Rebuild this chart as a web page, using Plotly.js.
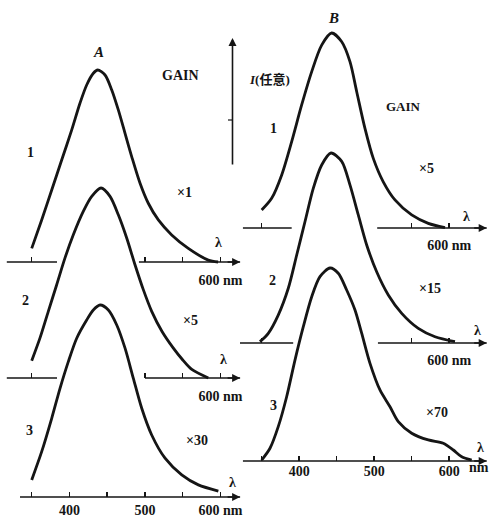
<!DOCTYPE html>
<html><head><meta charset="utf-8">
<script src="https://cdn.plot.ly/plotly-3.0.1.min.js"></script>
<style>html,body{margin:0;padding:0;background:#fff}#chart{width:496px;height:523px}</style>
</head><body><div id="chart"></div>
<script>
// ---- data (wavelength nm, relative intensity after gain) ----
const a1_nm = [350,363.2,376.5,389.7,403,414,422.8,431.6,437.4,447.1,456,464.7,473.6,482.5,493.5,504.4,517.7,535.4,557.4,583.9,596.8];
const a1_I  = [7.1,21.9,37.5,53.1,68.8,82.8,92.2,98.3,100,97.4,89.6,79.2,67,54.8,41,30.6,21.9,14.1,7.1,1,0];
const a2_nm = [350,361,372,383.1,394.1,405.1,418.3,429.5,441.8,453.7,464.7,475.8,486.8,497.8,508.9,522.6,537.1,549,562,583.9];
const a2_I  = [9.1,21.1,35.1,49.1,63.2,75.4,87.7,95.6,100,95.6,85.9,73.7,59.6,46.5,35.1,24.5,16,10,4.5,0];
const a3_nm = [350,363.2,376.5,387.5,398.5,409.6,422.8,431.6,440.5,451.5,462.6,473.6,484.6,495.7,508.9,526.6,548.7,570.7,597.2];
const a3_I  = [8.9,23.6,41,56.6,70.5,82.7,92.2,97.4,100,97.4,89.6,77.5,61.8,46.2,32.3,20.2,11.5,6.3,3.1];
const b1_nm = [350,363.3,376.7,390,403.3,416.7,430,443.3,456.7,467.7,476.7,487.7,498.8,512.1,527.7,550,572.1,594.4];
const b1_I  = [9.2,15.2,27.2,44.3,63.1,80.2,93.8,100,95.5,85.3,69.9,51.1,35.7,23.7,14.4,6.7,2.4,0.2];
const b2_nm = [347.7,358.8,372.1,385.5,396.7,407.7,418.8,430,442.4,456.7,467.7,478.8,490,503.3,518.8,536.7,558.8,581.1,607.7];
const b2_I  = [0.7,5.1,14.7,28.8,46.3,63.8,81.4,93.7,100,95.6,83.2,67.4,51.6,37.5,25.3,15.6,7.7,3.3,0.7];
const b3_nm = [350,361.1,372.1,383.3,394.4,405.5,416.7,427.7,441.1,452.1,463.3,474.4,483.3,494.4,507.7,521.1,532.1,550,572.1,592.1,605.5,616.7,630];
const b3_I  = [0.5,6.6,17.8,33.3,52.3,69.6,85.1,95.5,100,97.3,88.6,78.2,66.2,50.6,36.8,28.1,20.4,14.4,10.9,9.2,5.7,2.2,0.5];

// broken baseline (λ axis) segments, nm
const a1_axis = [[317,383.5],[492,626]];
const a2_axis = [[317,383.5],[500,626]];
const a3_axis = [[334.5,626]];
const b1_axis = [[325,390],[504,650]];
const b2_axis = [[321,392],[505,650]];
const b3_axis = [[325,650]];

// tick values / labels
const ticksBroken = [350,500,550,600];
const ticksBrokenB = [350,550,600];
const ticksFull = [350,400,450,500,550,600];
const labelsBroken = ['','','','600 nm'];
const labelsBrokenB = ['','','600 nm'];
const labelsFullA = ['','400','','500','','600 nm'];
const labelsFullB = ['','400','','500','','600'];

const W=496,H=523;
const PX=x=>x/W, PY=y=>1-y/H;
const FONT='Liberation Serif, DejaVu Serif, serif';
const INK='#151515';
const panels={A:{dom:[0,250/W],range:[308,639.1]},B:{dom:[240/W,1],range:[321.1,662.4]}};

const curves=[
 {nm:a1_nm,I:a1_I,axis:a1_axis,tv:ticksBroken,tt:labelsBroken,base:262,h:192,p:'A',so:8},
 {nm:a2_nm,I:a2_I,axis:a2_axis,tv:ticksBroken,tt:labelsBroken,base:378,h:190,p:'A',so:8},
 {nm:a3_nm,I:a3_I,axis:a3_axis,tv:ticksFull,tt:labelsFullA,base:497,h:192,p:'A',so:3},
 {nm:b1_nm,I:b1_I,axis:b1_axis,tv:ticksBrokenB,tt:labelsBrokenB,base:228,h:195,p:'B',so:7},
 {nm:b2_nm,I:b2_I,axis:b2_axis,tv:ticksBrokenB,tt:labelsBrokenB,base:343,h:190,p:'B',so:7},
 {nm:b3_nm,I:b3_I,axis:b3_axis,tv:ticksFull,tt:labelsFullB,base:461,h:193,p:'B',so:0}
];

const data=[], annotations=[];
const layout={width:W,height:H,margin:{l:0,r:0,t:0,b:0},paper_bgcolor:'#fff',plot_bgcolor:'rgba(0,0,0,0)',
  showlegend:false,font:{family:FONT,color:INK,size:14}};

curves.forEach((c,i)=>{
  const n=i+1, xs='x'+(i?n:''), ys='y'+(i?n:'');
  const pan=panels[c.p];
  layout['xaxis'+(i?n:'')]={domain:pan.dom,range:pan.range,anchor:'free',position:PY(c.base),
    showline:false,showgrid:false,zeroline:false,ticks:'inside',ticklen:5,tickwidth:1.5,tickcolor:INK,
    tickmode:'array',tickvals:c.tv,ticktext:c.tt,ticklabelstandoff:c.so,
    tickfont:{family:FONT,size:14,color:INK,weight:'bold'},fixedrange:true};
  layout['yaxis'+(i?n:'')]={domain:[0,1],range:[(c.base-H)*100/c.h,c.base*100/c.h],anchor:'free',position:0,
    visible:false,fixedrange:true};
  const bx=[],by=[];
  c.axis.forEach((s,k)=>{ if(k){bx.push(null);by.push(null);} bx.push(s[0],s[1]); by.push(0,0); });
  data.push({x:bx,y:by,xaxis:xs,yaxis:ys,mode:'lines',line:{color:INK,width:1.7},connectgaps:false,hoverinfo:'skip'});
  data.push({x:c.nm,y:c.I,xaxis:xs,yaxis:ys,mode:'lines',line:{color:INK,width:2.8,shape:'spline',smoothing:0.8},hoverinfo:'skip'});
  const end=c.axis[c.axis.length-1][1];
  annotations.push({xref:xs,yref:ys,x:end,y:0,ax:-14,ay:0,text:'',showarrow:true,arrowhead:2,arrowsize:1,arrowwidth:1.6,arrowcolor:INK});
});

function T(text,x,y,size,extra){annotations.push(Object.assign({xref:'paper',yref:'paper',x:PX(x),y:PY(y),text:text,showarrow:false,
  font:{family:FONT,size:size||14,color:INK},xanchor:'center',yanchor:'middle'},extra||{}));}

T('<b><i>A</i></b>',98,52,15); T('<b><i>B</i></b>',333,18,15);
T('<b>1</b>',30,152,14); T('<b>2</b>',25,300,14); T('<b>3</b>',29,430,14);
T('<b>1</b>',273,128,14); T('<b>2</b>',272,280,14); T('<b>3</b>',273,405,14);
T('<b>GAIN</b>',180,75,14); T('<b>GAIN</b>',403,107,13);
T('<b>×1</b>',184,192,14); T('<b>×5</b>',190,320,14); T('<b>×30</b>',197,440,14);
T('<b>×5</b>',426,168,14); T('<b>×15</b>',430,288,14); T('<b>×70</b>',437,412,14);
T('<b>λ</b>',218,242,14); T('<b>λ</b>',223,359,14); T('<b>λ</b>',232,482,14);
T('<b>λ</b>',466,216,14); T('<b>λ</b>',477,330,14); T('<b>λ</b>',480,447,14);
T('<b>nm</b>',479,467,14);
annotations.push({xref:'paper',yref:'paper',x:PX(232.5),y:PY(38),ax:0,ay:128,text:'',showarrow:true,arrowhead:2,arrowsize:1,arrowwidth:1.6,arrowcolor:INK});
T('<b><i>I</i>(任意)</b>',269,80,13,{font:{family:'Liberation Serif, Noto Sans CJK SC, serif',size:13,color:INK}});
layout.annotations=annotations;
layout.shapes=[{type:'line',xref:'paper',yref:'paper',x0:PX(228),x1:PX(232.5),y0:PY(120),y1:PY(120),line:{color:INK,width:1.2}}];

Plotly.newPlot('chart',data,layout,{staticPlot:true,displayModeBar:false});
</script>
</body></html>
